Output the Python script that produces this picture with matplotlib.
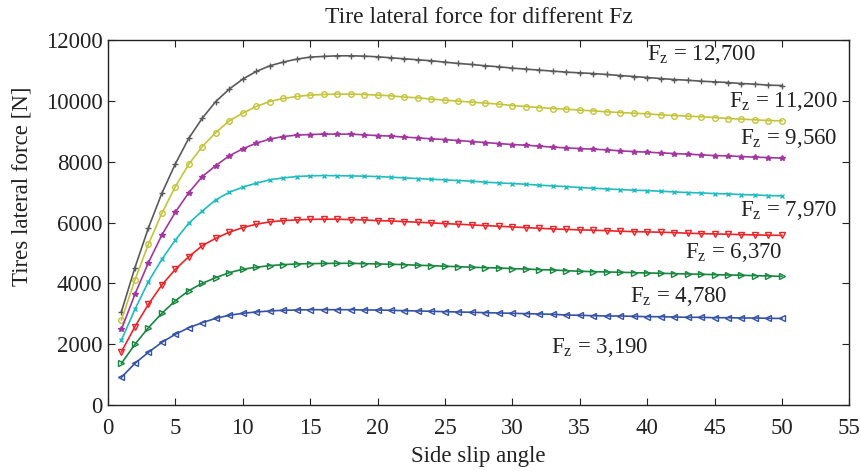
import matplotlib
matplotlib.use("Agg")
import matplotlib.pyplot as plt
import numpy as np

plt.rcParams['font.family'] = ['Liberation Serif', 'DejaVu Serif']
plt.rcParams['mathtext.fontset'] = 'custom'
plt.rcParams['mathtext.rm'] = 'Liberation Serif'
plt.rcParams['mathtext.it'] = 'Liberation Serif'

# side slip angle samples
slip = list(range(1, 51))

fz_12700 = [3070, 4517, 5823, 6965, 7929, 8774, 9432, 9979, 10387, 10716,
            10966, 11153, 11275, 11373, 11439, 11461, 11482, 11482, 11471, 11449,
            11416, 11383, 11350, 11318, 11274, 11230, 11196, 11153, 11120, 11077,
            11044, 11011, 10978, 10945, 10922, 10899, 10867, 10834, 10801, 10768,
            10735, 10702, 10680, 10647, 10625, 10603, 10570, 10550, 10517, 10505]
fz_11200 = [2797, 4113, 5287, 6307, 7183, 7918, 8500, 8959, 9344, 9597,
            9815, 9979, 10078, 10144, 10190, 10210, 10222, 10222, 10209, 10190,
            10166, 10124, 10100, 10058, 10024, 9991, 9958, 9926, 9893, 9847,
            9814, 9781, 9748, 9728, 9695, 9672, 9639, 9617, 9595, 9574,
            9541, 9518, 9498, 9476, 9453, 9420, 9400, 9377, 9354, 9344]
fz_9560 = [2490, 3642, 4682, 5593, 6340, 6986, 7512, 7874, 8193, 8424,
           8610, 8742, 8828, 8874, 8894, 8907, 8906, 8906, 8883, 8860,
           8841, 8808, 8784, 8751, 8728, 8695, 8663, 8630, 8597, 8564,
           8544, 8511, 8478, 8455, 8432, 8412, 8390, 8357, 8334, 8314,
           8291, 8268, 8248, 8225, 8202, 8192, 8170, 8149, 8136, 8116]
fz_7970 = [2139, 3148, 4057, 4793, 5429, 5978, 6383, 6745, 6995, 7163,
           7294, 7403, 7468, 7512, 7535, 7545, 7540, 7534, 7524, 7511,
           7491, 7468, 7445, 7425, 7403, 7380, 7360, 7327, 7304, 7281,
           7261, 7228, 7205, 7182, 7149, 7129, 7106, 7083, 7063, 7050,
           7030, 7008, 6985, 6975, 6952, 6942, 6919, 6909, 6886, 6876]
fz_6370 = [1754, 2576, 3313, 3948, 4464, 4879, 5241, 5484, 5682, 5833,
           5945, 6021, 6064, 6087, 6105, 6110, 6110, 6096, 6087, 6063,
           6053, 6030, 6010, 5988, 5965, 5945, 5922, 5899, 5879, 5856,
           5834, 5813, 5790, 5775, 5758, 5748, 5734, 5715, 5702, 5692,
           5682, 5669, 5649, 5636, 5626, 5616, 5603, 5593, 5585, 5578]
fz_4780 = [1371, 1996, 2544, 3017, 3432, 3761, 4003, 4188, 4353, 4464,
           4530, 4583, 4616, 4639, 4649, 4655, 4660, 4660, 4649, 4639,
           4629, 4616, 4596, 4583, 4563, 4550, 4530, 4517, 4507, 4484,
           4474, 4451, 4442, 4418, 4399, 4385, 4376, 4366, 4353, 4343,
           4333, 4320, 4310, 4300, 4287, 4277, 4267, 4254, 4244, 4230]
fz_3190 = [911, 1371, 1734, 2063, 2326, 2544, 2708, 2852, 2951, 3017,
           3060, 3093, 3115, 3125, 3135, 3135, 3135, 3135, 3125, 3125,
           3115, 3102, 3093, 3083, 3070, 3060, 3050, 3037, 3027, 3017,
           3004, 2994, 2984, 2961, 2951, 2938, 2928, 2928, 2918, 2905,
           2905, 2895, 2885, 2885, 2872, 2872, 2862, 2862, 2852, 2848]

curve_labels = ['12,700', '11,200', '9,560', '7,970', '6,370', '4,780', '3,190']
# where each F_z annotation sits (data coords, left / baseline)
label_x = [40.0, 46.1, 46.9, 46.9, 42.8, 38.7, 32.9]
label_y = [11350, 9794, 8577, 6218, 4826, 3399, 1700]


def plot_lateral_force(filename='out.png'):
    series = [fz_12700, fz_11200, fz_9560, fz_7970, fz_6370, fz_4780, fz_3190]
    colors = ['#5a5a5a', '#c4c43a', '#a1379f', '#1fbcc0', '#ec2328', '#17863e', '#3552a6']
    markers = ['+', 'o', '*', 'x', 'v', '>', '<']
    filled = [True, False, True, True, False, False, False]
    sizes = [4, 4, 4, 3.5, 4.5, 4.5, 4.5]

    fig = plt.figure(facecolor='w', figsize=(8.61, 4.71), dpi=100)
    ax = fig.add_axes([0.1254, 0.140, 0.861, 0.775])

    for data, c, m, f, s in zip(series, colors, markers, filled, sizes):
        ax.plot(slip, data, color=c, lw=1.2, marker=m, ms=s,
                markerfacecolor=c if f else 'none', markeredgecolor=c,
                markeredgewidth=1.0)

    for txt, x, y in zip(curve_labels, label_x, label_y):
        ax.text(x, y, r'F$_\mathrm{z}$ = ' + txt, fontsize=16.5,
                ha='left', va='baseline', color='#222222')

    ax.set_xlim(0, 55)
    ax.set_ylim(0, 12000)
    ax.set_xticks(np.arange(0, 56, 5))
    ax.set_yticks(np.arange(0, 12001, 2000))
    ax.tick_params(direction='in', length=5, top=True, right=True,
                   labelsize=16.5, colors='#222222')
    ax.tick_params(axis='x', pad=9)
    ax.tick_params(axis='y', pad=4)
    for sp in ax.spines.values():
        sp.set_color('#222222')
        sp.set_linewidth(1.0)

    ax.set_title('Tire lateral force for different Fz', fontsize=17,
                 color='#222222', pad=12)
    ax.set_xlabel('Side slip angle', fontsize=16.5, color='#222222', labelpad=5)
    ax.set_ylabel('Tires lateral force [N]', fontsize=16.5, color='#222222')
    ax.yaxis.set_label_coords(-0.102, 0.6)

    plt.savefig(filename, dpi=100)


if __name__ == "__main__":
    plot_lateral_force()
